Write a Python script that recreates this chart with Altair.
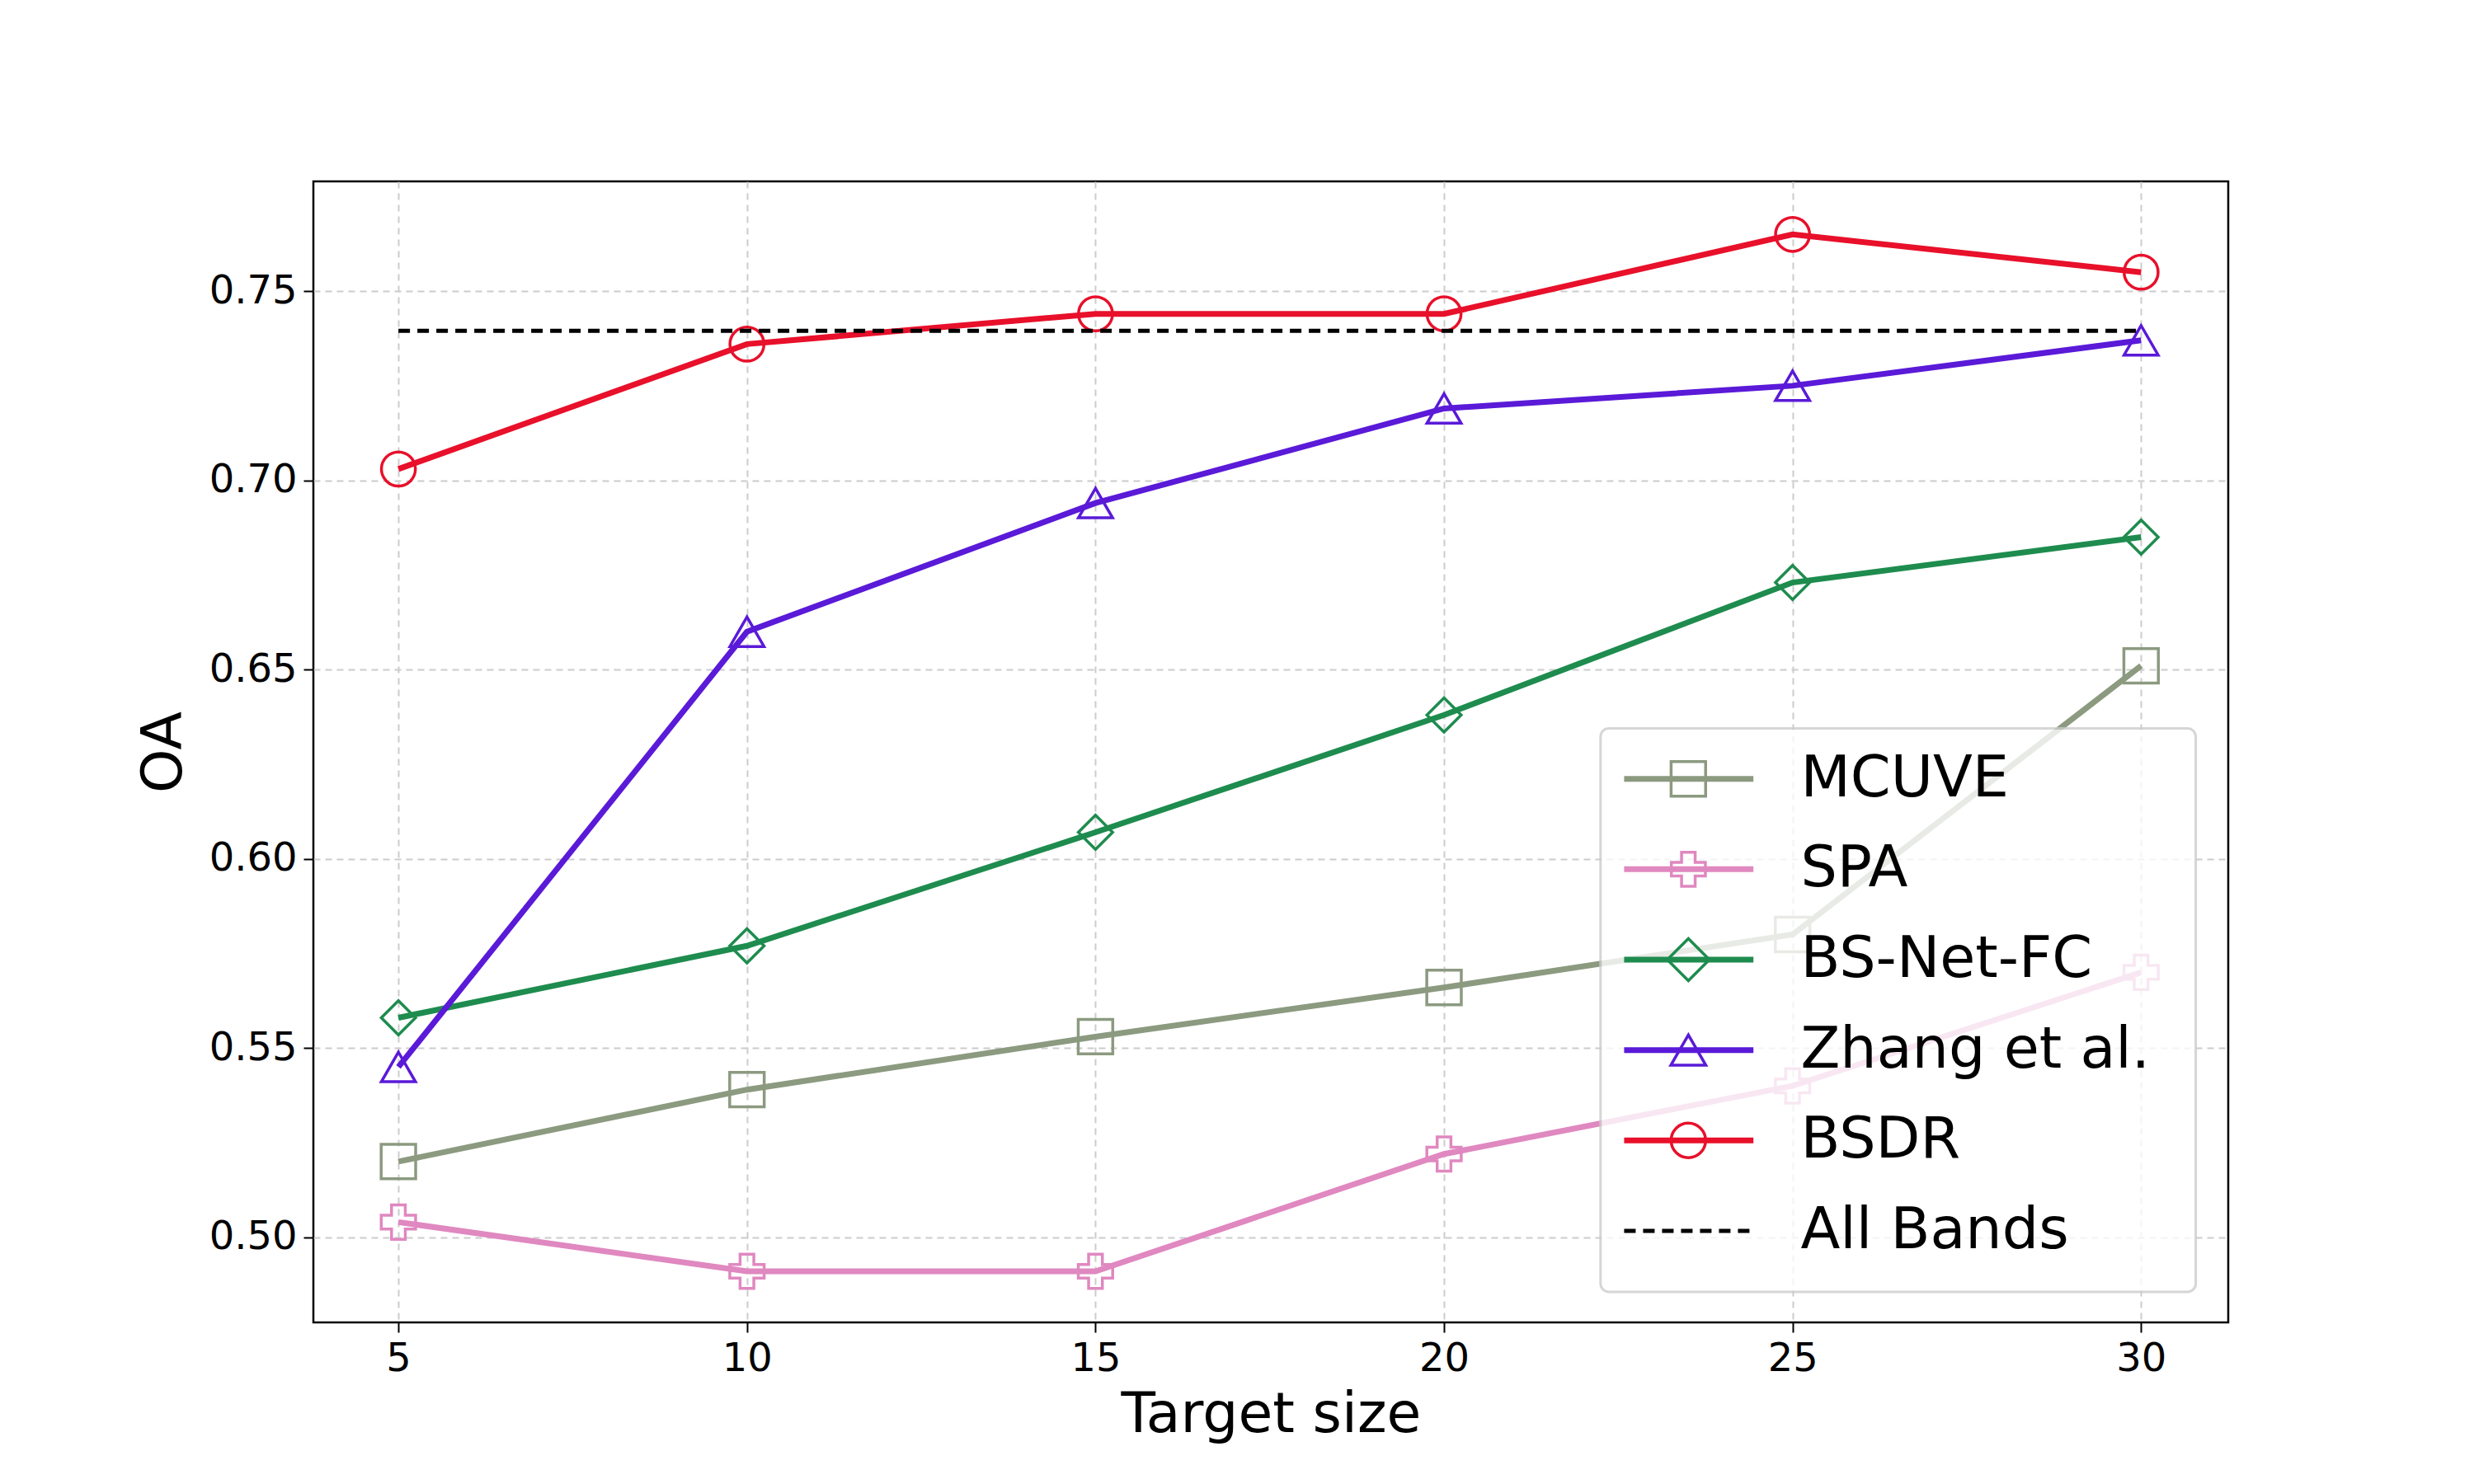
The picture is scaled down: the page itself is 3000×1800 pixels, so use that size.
import pandas as pd
import altair as alt

sizes = [5, 10, 15, 20, 25, 30]
mcuve = [0.520, 0.539, 0.553, 0.566, 0.580, 0.651]
spa = [0.504, 0.491, 0.491, 0.522, 0.540, 0.570]
bsnet = [0.558, 0.577, 0.607, 0.638, 0.673, 0.685]
zhang = [0.545, 0.660, 0.694, 0.719, 0.725, 0.737]
bsdr = [0.703, 0.736, 0.744, 0.744, 0.765, 0.755]
all_bands = 0.7395

names = ["MCUVE", "SPA", "BS-Net-FC", "Zhang et al.", "BSDR"]
colors = ["#8c9a80", "#e088c0", "#1e8c4e", "#5a1ad8", "#e8102a"]
shapes = ["square", "cross", "diamond", "triangle-up", "circle"]
msizes = [1750, 1700, 2600, 1800, 1750]
series = [mcuve, spa, bsnet, zhang, bsdr]

W, H = 2322, 1384
K = 0.986
FONT = "DejaVu Sans"

rows = []
for n, vals in zip(names, series):
    for s, v in zip(sizes, vals):
        rows.append({"size": s, "oa": v, "name": n})
df = pd.DataFrame(rows)

xs = alt.Scale(domain=[3.78, 31.25], nice=False, zero=False)
ys = alt.Scale(domain=[0.4775, 0.779], nice=False, zero=False)
col = alt.Color("name:N", scale=alt.Scale(domain=names, range=colors), legend=None)
shp = alt.Shape("name:N", scale=alt.Scale(domain=names, range=shapes), legend=None)
siz = alt.Size("name:N", scale=alt.Scale(domain=names, range=msizes), legend=None)

x_enc = alt.X("size:Q", scale=xs, title="Target size",
              axis=alt.Axis(values=sizes, format="d", grid=True, gridDash=[8, 6], gridColor="#cccccc",
                            gridWidth=2, labelFontSize=48, titleFontSize=68, tickSize=12,
                            tickWidth=2, tickColor="black", labelColor="black",
                            titleFontWeight="normal", domain=False, labelPadding=8, titlePadding=10))
y_enc = alt.Y("oa:Q", scale=ys, title="OA",
              axis=alt.Axis(values=[0.50, 0.55, 0.60, 0.65, 0.70, 0.75], format=".2f", grid=True,
                            gridDash=[8, 6], gridColor="#cccccc", gridWidth=2, labelFontSize=48,
                            titleFontSize=68, tickSize=12, tickWidth=2, tickColor="black",
                            labelColor="black", titleFontWeight="normal", domain=False,
                            labelPadding=8, titlePadding=20))

lines = alt.Chart(df).mark_line(strokeWidth=7).encode(x=x_enc, y=y_enc, color=col, detail="name:N")
points = alt.Chart(df).mark_point(strokeWidth=3.5, filled=False, opacity=1).encode(
    x="size:Q", y="oa:Q", color=col, shape=shp, size=siz)

ab = pd.DataFrame({"size": [5, 30], "oa": [all_bands, all_bands]})
ab_line = alt.Chart(ab).mark_line(color="black", strokeWidth=5, strokeDash=[14, 9]).encode(
    x="size:Q", y="oa:Q")

# legend (pixel positions in plot area)
leg_names = names + ["All Bands"]
leg_colors = colors + ["black"]
leg = pd.DataFrame({"name": leg_names, "c": leg_colors,
                    "ly": [K * (735 + 111.2 * i) for i in range(6)]})
box = alt.Chart(pd.DataFrame({"a": [0]})).mark_rect(
    fill="white", opacity=0.8, stroke="#cccccc", strokeWidth=3, cornerRadius=10).encode(
    x=alt.value(1583 * K), x2=alt.value(2315 * K), y=alt.value(673 * K), y2=alt.value(1366 * K))
leg_line = alt.Chart(leg.iloc[:5]).mark_rule(strokeWidth=7).encode(
    x=alt.value(1612 * K), x2=alt.value(1771 * K), y=alt.Y("ly:Q", scale=None),
    color=alt.Color("c:N", scale=None))
leg_dash = alt.Chart(leg.iloc[5:]).mark_rule(strokeWidth=5, strokeDash=[14, 9], color="black").encode(
    x=alt.value(1612 * K), x2=alt.value(1771 * K), y=alt.Y("ly:Q", scale=None))
leg_pt = alt.Chart(leg.iloc[:5].assign(s=shapes, z=msizes)).mark_point(strokeWidth=3.5, filled=False, opacity=1).encode(
    x=alt.value(1691 * K), y=alt.Y("ly:Q", scale=None), color=alt.Color("c:N", scale=None),
    shape=alt.Shape("s:N", scale=None), size=alt.Size("z:Q", scale=None))
leg_txt = alt.Chart(leg).mark_text(align="left", baseline="middle", fontSize=70, font=FONT, color="black").encode(
    x=alt.value(1829 * K), y=alt.Y("ly:Q", scale=None), text="name:N")

chart = alt.layer(lines, points, ab_line, box, leg_line, leg_dash, leg_pt, leg_txt).properties(
    width=W, height=H,
    autosize=alt.AutoSizeParams(type="none"),
    padding={"left": 372, "top": 212, "right": 250, "bottom": 167},
    background="white",
).configure_view(stroke="black", strokeWidth=2.5).configure_axis(labelFont=FONT, titleFont=FONT)

chart.save("out.html", embed_options={"renderer": "svg", "actions": False})
